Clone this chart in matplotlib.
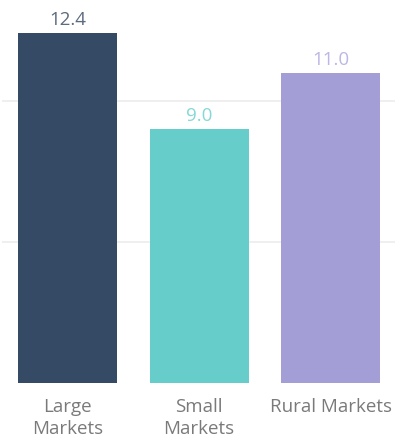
import matplotlib
matplotlib.use("Agg")
import matplotlib.pyplot as plt

categories = ["Large\nMarkets", "Small\nMarkets", "Rural Markets"]
values = [12.4, 9.0, 11.0]
bar_colors = ["#344a65", "#67cdcb", "#a39ed6"]
label_colors = ["#5d6b7e", "#86d8d6", "#bcb7e4"]

plt.rcParams["font.family"] = ["Open Sans", "DejaVu Sans"]

fig = plt.figure(figsize=(4.0, 4.42), dpi=100)
ax = fig.add_axes([0.005, 0.1335, 0.983, 0.8665])

x = range(len(values))
ax.bar(x, values, width=0.753, color=bar_colors, zorder=2)
for xi, v, c in zip(x, values, label_colors):
    ax.annotate(f"{v:.1f}", (xi, v), xytext=(0, 3), textcoords="offset points",
                ha="center", va="bottom", fontsize=13.5, color=c)

ax.set_xlim(-0.498, 2.491)
ax.set_ylim(0, 13.58)
ax.set_yticks([5, 10])
ax.yaxis.grid(True, color="#ececec", linewidth=1.2, zorder=0)
ax.tick_params(axis="y", left=False, labelleft=False)
ax.set_xticks(list(x))
ax.set_xticklabels(categories, fontsize=13.5, color="#7a7a7a", linespacing=1.3)
ax.tick_params(axis="x", length=0, pad=11)
for s in ax.spines.values():
    s.set_visible(False)

fig.savefig("out.png", dpi=100)
